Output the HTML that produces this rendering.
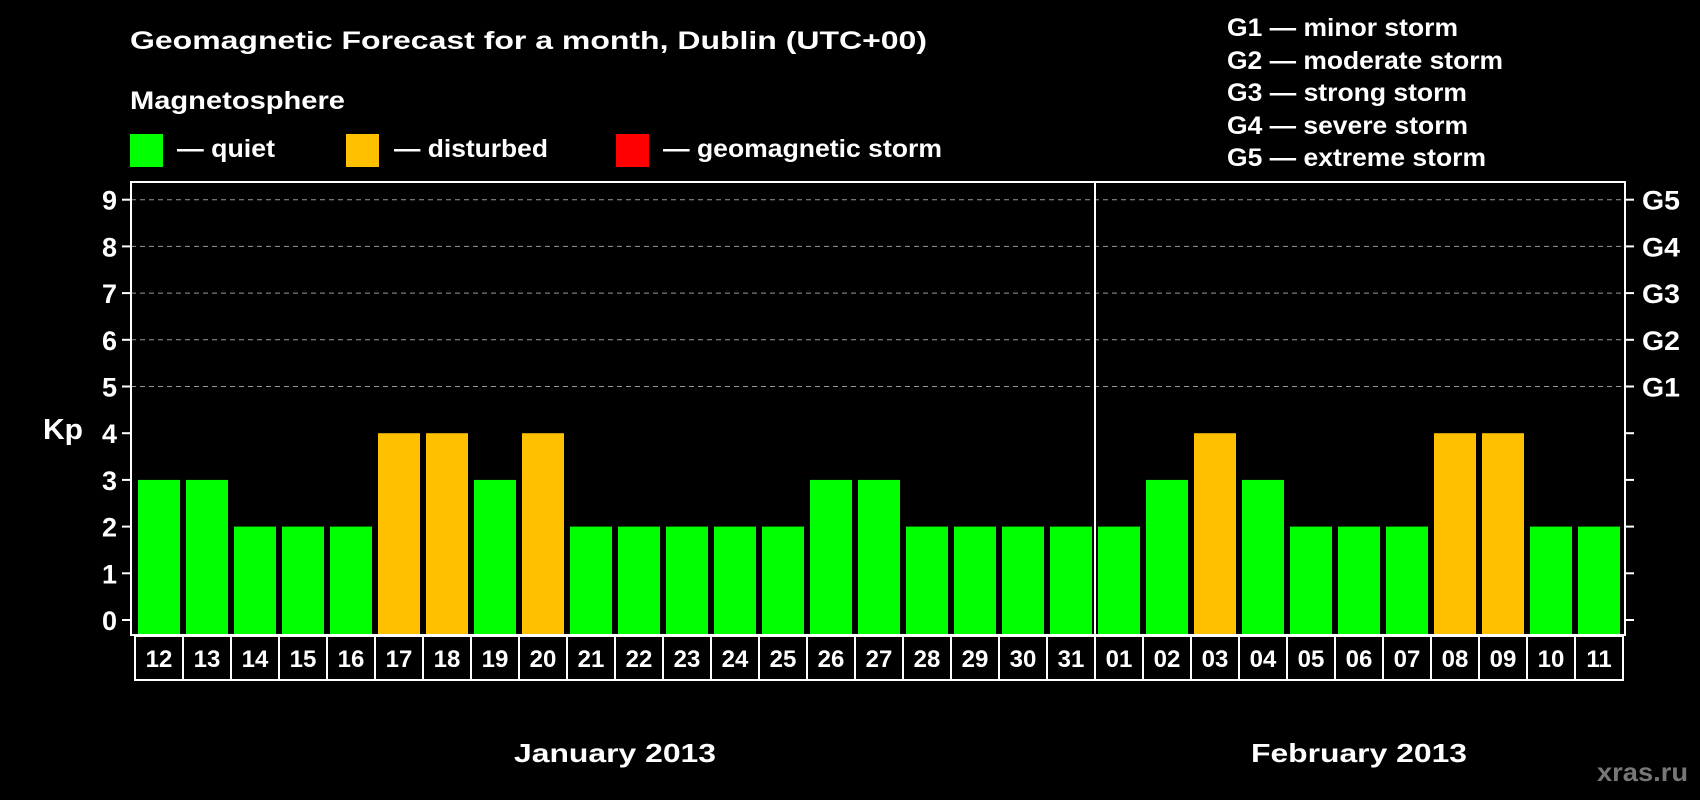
<!DOCTYPE html>
<html><head><meta charset="utf-8"><style>
body{margin:0;background:#000;width:1700px;height:800px;overflow:hidden}
svg{display:block;font-family:"Liberation Sans",Arial,sans-serif;font-weight:bold}
</style></head><body>
<svg id="c" width="1700" height="800">
<text x="130" y="49" fill="#fff" font-size="25" textLength="797" lengthAdjust="spacingAndGlyphs">Geomagnetic Forecast for a month, Dublin (UTC+00)</text>
<text x="130" y="109" fill="#fff" font-size="25" textLength="215" lengthAdjust="spacingAndGlyphs">Magnetosphere</text>
<rect x="130" y="134" width="33" height="33" fill="#00ff00"/>
<text x="177" y="157" fill="#fff" font-size="25" textLength="98" lengthAdjust="spacingAndGlyphs">— quiet</text>
<rect x="346" y="134" width="33" height="33" fill="#ffc000"/>
<text x="394" y="157" fill="#fff" font-size="25" textLength="154" lengthAdjust="spacingAndGlyphs">— disturbed</text>
<rect x="616" y="134" width="33" height="33" fill="#ff0000"/>
<text x="663" y="157" fill="#fff" font-size="25" textLength="279" lengthAdjust="spacingAndGlyphs">— geomagnetic storm</text>
<g fill="#fff" font-size="25">
<text x="1227" y="36" textLength="231" lengthAdjust="spacingAndGlyphs">G1 — minor storm</text>
<text x="1227" y="69" textLength="276" lengthAdjust="spacingAndGlyphs">G2 — moderate storm</text>
<text x="1227" y="101" textLength="240" lengthAdjust="spacingAndGlyphs">G3 — strong storm</text>
<text x="1227" y="134" textLength="241" lengthAdjust="spacingAndGlyphs">G4 — severe storm</text>
<text x="1227" y="166" textLength="259" lengthAdjust="spacingAndGlyphs">G5 — extreme storm</text>
</g>
<text x="43" y="439" fill="#fff" font-size="29" textLength="40" lengthAdjust="spacingAndGlyphs">Kp</text>
<text x="1688" y="781" fill="#777" font-size="26" text-anchor="end" textLength="91" lengthAdjust="spacingAndGlyphs">xras.ru</text>
<g id="plot"></g>
</svg>
<script>
const days=["12","13","14","15","16","17","18","19","20","21","22","23","24","25","26","27","28","29","30","31","01","02","03","04","05","06","07","08","09","10","11"];
const kp=[3,3,2,2,2,4,4,3,4,2,2,2,2,2,3,3,2,2,2,2,2,3,4,3,2,2,2,4,4,2,2];
const yTicks=[0,1,2,3,4,5,6,7,8,9];
const gLabels=["G1","G2","G3","G4","G5"];
const gLevels=[5,6,7,8,9];
const months=["January 2013","February 2013"];
const monthStart=[0,20];
const NS="http://www.w3.org/2000/svg";
const L=131,R=1625,T=182,B=635,y0=620,unit=46.7,x0=138,pitch=48,bw=42;
const y=v=>y0-v*unit;
const x=i=>x0+i*pitch;
const g=document.getElementById('plot');
function mk(t,a,txt){const e=document.createElementNS(NS,t);for(const k in a)e.setAttribute(k,a[k]);if(txt!==undefined)e.textContent=txt;g.appendChild(e);return e;}
yTicks.forEach(v=>{
 if(v>=5){const e=mk('line',{x1:L,x2:R,y1:y(v),y2:y(v),stroke:'#999','stroke-dasharray':'5,4','stroke-width':1});
 
 }
 const t1=mk('line',{x1:L-9,x2:L,y1:y(v),y2:y(v),stroke:'#fff','stroke-width':2});
 
 
 const t2=mk('line',{x1:R,x2:R+9,y1:y(v),y2:y(v),stroke:'#fff','stroke-width':2});
 
 
 const l=mk('text',{x:L-14,y:y(v)+10,fill:'#fff','font-size':27,'text-anchor':'end'},v);
 
 
});
gLabels.forEach((s,i)=>{
 const l=mk('text',{x:R+17,y:y(gLevels[i])+10,fill:'#fff','font-size':27,textLength:38,lengthAdjust:'spacingAndGlyphs'},s);
 
 
});
kp.forEach((v,i)=>{
 const b=mk('rect',{x:x(i),y:y(v),width:bw,height:B-y(v),fill:v>=5?'#ff0000':(v>=4?'#ffc000':'#00ff00')});
 
 
 const c=mk('rect',{x:x(i)-3,y:636,width:pitch,height:44,fill:'none',stroke:'#fff','stroke-width':2});
 
 
 const t=mk('text',{x:x(i)+bw/2,y:667,fill:'#fff','font-size':24,'text-anchor':'middle'},days[i]);
 
 
});
const fr=mk('rect',{x:L,y:T,width:R-L,height:B-T,fill:'none',stroke:'#fff','stroke-width':2});


const dv=mk('line',{x1:x(monthStart[1])-3,x2:x(monthStart[1])-3,y1:T,y2:B,stroke:'#fff','stroke-width':2});


const monthW=[202,216];
months.forEach((m,i)=>{
 const s=x(monthStart[i]),e=i+1<months.length?x(monthStart[i+1]):x(days.length);
 const t=mk('text',{x:(s+e)/2-3-monthW[i]/2,y:762,fill:'#fff','font-size':26,textLength:monthW[i],lengthAdjust:'spacingAndGlyphs'},m);
 
 
});
</script>
</body></html>
